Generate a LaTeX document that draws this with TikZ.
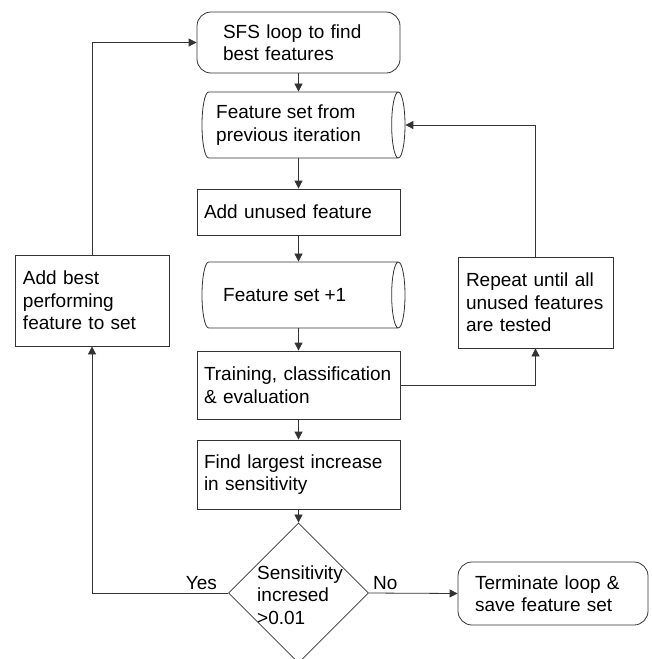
\documentclass[tikz,border=0pt]{standalone}
\usepackage{fontspec}
\setmainfont{Liberation Sans}
\usetikzlibrary{shapes.geometric,arrows.meta}
\begin{document}
\begin{tikzpicture}[x=1pt,y=1pt,
        font=\fontsize{19}{22.5}\selectfont,
        line/.style={draw=black!80, line width=0.8pt},
        arr/.style={line, -{Triangle[length=8pt,width=8pt]}},
        proc/.style={line, rectangle, align=left, inner xsep=7pt, text width=189pt},
        term/.style={line, rectangle, rounded corners=14pt, align=left},
        store/.style={line, cylinder, aspect=2, minimum width=66pt, minimum height=203pt},
        dec/.style={line, diamond, minimum width=140pt, minimum height=140pt, inner sep=0pt},
        lbl/.style={inner sep=0pt, align=left}]
        \useasboundingbox (0,0) rectangle (651,-659);
        % main column
        \node[term, inner xsep=26pt, text width=151pt, minimum height=61pt] (sfs) at (298.5,-42.5) {SFS loop to find\\best features};
        \node[store] (prev) at (298.5,-125) {};
        \node[lbl, anchor=west] (prevtxt) at (216,-125) {Feature set from\\previous iteration};
        \node[proc, minimum height=46pt] (add) at (298.5,-212) {Add unused feature};
        \node[store] (plus) at (298.5,-295) {};
        \node[lbl, anchor=west] (plustxt) at (223,-295) {Feature set +1};
        \node[proc, minimum height=68pt] (train) at (298.5,-385) {Training, classification\\\& evaluation};
        \node[proc, minimum height=69pt] (find) at (298.5,-474.5) {Find largest increase\\in sensitivity};
        \node[dec] (check) at (298.5,-593) {};
        \node[lbl] (checktxt) at (300,-595) {Sensitivity\\incresed\\>0.01};
        % side boxes
        \node[proc, inner xsep=8pt, text width=138pt, minimum height=91pt] (best) at (92,-300.5) {Add best\\performing\\feature to set};
        \node[proc, inner xsep=8pt, text width=139pt, minimum height=91pt] (rep) at (535.5,-302.5) {Repeat until all\\unused features\\are tested};
        \node[term, inner xsep=17pt, text width=156pt, minimum height=63pt] (stop) at (553,-593.5) {Terminate loop \&\\save feature set};
        % connectors
        \draw[arr] (sfs) -- (prev);
        \draw[arr] (prev) -- (add);
        \draw[arr] (add) -- (plus);
        \draw[arr] (plus) -- (train);
        \draw[arr] (train) -- (find);
        \draw[arr] (find) -- (check);
        \draw[arr] (train.east) -| (rep.south);
        \draw[arr] (rep.north) |- (prev.east);
        \draw[arr] (check.west) -| (best.south);
        \draw[arr] (best.north) |- (sfs.west);
        \draw[arr] (check.east) -- (stop.west);
        \node[lbl, anchor=south east] (yes) at ([xshift=-11pt,yshift=3pt]check.west) {Yes};
        \node[lbl, anchor=south west] (no) at ([xshift=4pt,yshift=3pt]check.east) {No};
\end{tikzpicture}
\end{document}
